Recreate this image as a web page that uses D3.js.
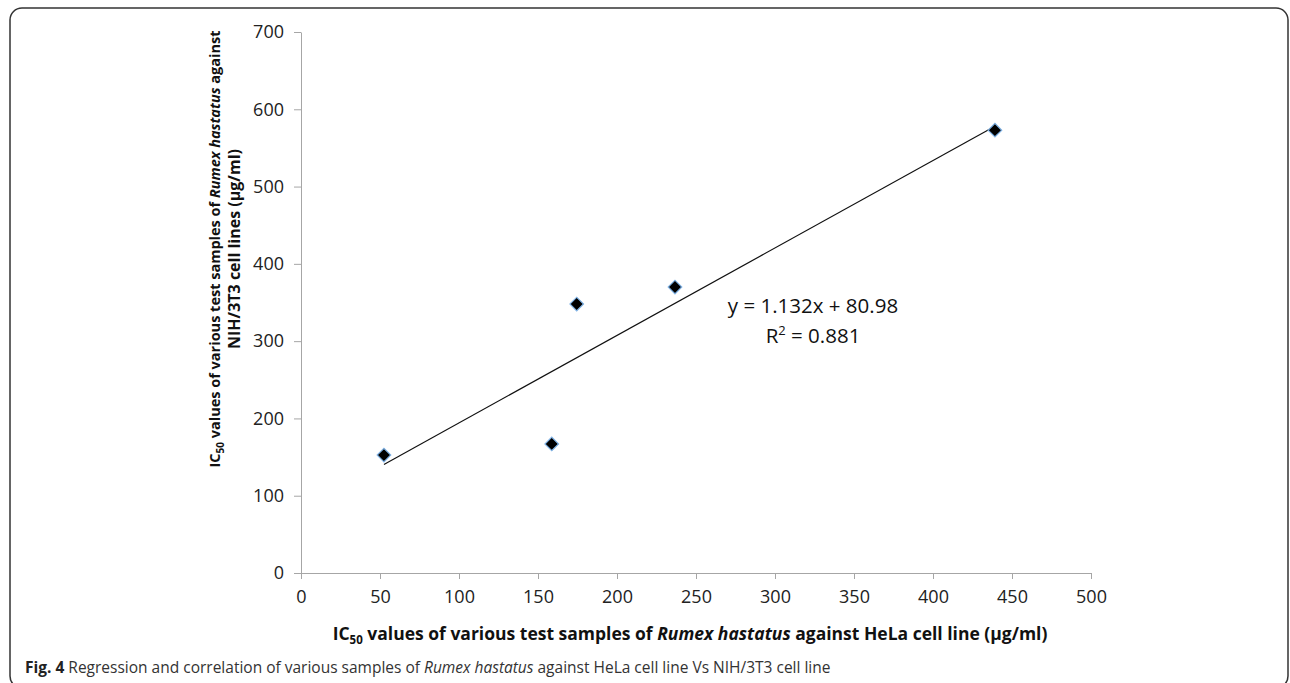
<!DOCTYPE html>
<html>
<head>
	<meta charset="utf-8">
	<title>IC50 regression</title>
	<script src="https://cdn.jsdelivr.net/npm/d3@7"></script>
	<style>
	body { margin: 0; background: #fff; }
	.tick text { font-family: "Open Sans", sans-serif; font-size: 18px; fill: #222; }
	.axis path, .axis line { stroke: #a6a6a6; }
	</style>
</head>
<body>
	<svg></svg>
<script>
	// IC50 values
	var helaIC50 = [52.5, 158.7, 174.5, 236.7, 439.2];
	var nihIC50 = [152.6, 167, 348, 370, 573];
	var xTicks = [0, 50, 100, 150, 200, 250, 300, 350, 400, 450, 500];
	var yTicks = [0, 100, 200, 300, 400, 500, 600, 700];
	var slope = 1.132, intercept = 80.98, r2 = 0.881;

	var width = 1290, height = 683;
	var plot = {left: 301, right: 1091, top: 32, bottom: 573};

	var svg = d3.select("svg")
		.attr("width", width)
		.attr("height", height);

	// frame round the figure
	svg.append("rect")
		.attr("x", 10).attr("y", 8)
		.attr("width", 1278).attr("height", 680)
		.attr("rx", 12)
		.attr("fill", "none")
		.attr("stroke", "#333")
		.attr("stroke-width", 1.5);

	var xScale = d3.scaleLinear().domain([0, 500]).range([plot.left, plot.right]);
	var yScale = d3.scaleLinear().domain([0, 700]).range([plot.bottom, plot.top]);

	svg.append("g")
		.attr("class", "axis")
		.attr("transform", "translate(0," + plot.bottom + ")")
		.call(d3.axisBottom(xScale).tickValues(xTicks).tickSize(6).tickSizeOuter(0).tickPadding(11));

	svg.append("g")
		.attr("class", "axis")
		.attr("transform", "translate(" + plot.left + ",0)")
		.call(d3.axisLeft(yScale).tickValues(yTicks).tickSize(7).tickSizeOuter(0).tickPadding(10));

	// trendline over the data range
	var xExt = d3.extent(helaIC50);
	svg.append("line")
		.attr("x1", xScale(xExt[0])).attr("y1", yScale(slope * xExt[0] + intercept))
		.attr("x2", xScale(xExt[1])).attr("y2", yScale(slope * xExt[1] + intercept))
		.attr("stroke", "#111")
		.attr("stroke-width", 1.2);

	var pts = helaIC50.map(function(v, i) { return {x: v, y: nihIC50[i]}; });
	svg.selectAll("path.pt")
		.data(pts).enter()
		.append("path")
		.attr("class", "pt")
		.attr("d", d3.symbol().type(d3.symbolSquare).size(92))
		.attr("transform", function(d) { return "translate(" + xScale(d.x) + "," + yScale(d.y) + ") rotate(45)"; })
		.attr("fill", "#000")
		.attr("stroke", "#7fb2e5")
		.attr("stroke-width", 1.2);

	// equation label
	var eq = svg.append("text")
		.attr("font-family", "Open Sans, sans-serif")
		.attr("font-size", 20.5)
		.attr("fill", "#111")
		.attr("text-anchor", "middle");
	eq.append("tspan").attr("x", 813).attr("y", 313)
		.text("y = " + slope + "x + " + intercept);
	var l2 = eq.append("tspan").attr("x", 813).attr("y", 343);
	l2.append("tspan").text("R");
	l2.append("tspan").attr("font-size", 13).attr("dy", -8).text("2");
	l2.append("tspan").attr("dy", 8).text(" = " + r2);

	// x axis title
	var xt = svg.append("text")
		.attr("x", 690).attr("y", 640)
		.attr("text-anchor", "middle")
		.attr("font-family", "Open Sans, sans-serif")
		.attr("font-size", 17.5)
		.attr("font-weight", "bold")
		.attr("fill", "#111");
	xt.append("tspan").text("IC");
	xt.append("tspan").attr("font-size", 11.5).attr("dy", 4).text("50");
	xt.append("tspan").attr("dy", -4).text(" values of various test samples of ");
	xt.append("tspan").attr("font-style", "italic").text("Rumex hastatus");
	xt.append("tspan").text(" against HeLa cell line (\u00b5g/ml)");

	// y axis title, two lines
	var yt = svg.append("text")
		.attr("transform", "translate(220,249) rotate(-90)")
		.attr("text-anchor", "middle")
		.attr("font-family", "Open Sans, sans-serif")
		.attr("font-size", 14.5)
		.attr("font-weight", "bold")
		.attr("fill", "#111");
	var y1 = yt.append("tspan").attr("x", 0).attr("y", 0);
	y1.append("tspan").text("IC");
	y1.append("tspan").attr("font-size", 10).attr("dy", 4).text("50");
	y1.append("tspan").attr("dy", -4).text(" values of various test samples of ");
	y1.append("tspan").attr("font-style", "italic").text("Rumex hastatus");
	y1.append("tspan").text(" against");
	yt.append("tspan").attr("x", 0).attr("y", 19.5).attr("font-size", 16).text("NIH/3T3 cell lines (\u00b5g/ml)");

	// caption
	var cap = svg.append("text")
		.attr("x", 25).attr("y", 673)
		.attr("font-family", "Open Sans, sans-serif")
		.attr("font-size", 15.5)
		.attr("fill", "#333");
	cap.append("tspan").attr("font-weight", "bold").attr("fill", "#222").text("Fig. 4");
	cap.append("tspan").text(" Regression and correlation of various samples of ");
	cap.append("tspan").attr("font-style", "italic").text("Rumex hastatus");
	cap.append("tspan").text(" against HeLa cell line Vs NIH/3T3 cell line");
</script>
</body>
</html>
